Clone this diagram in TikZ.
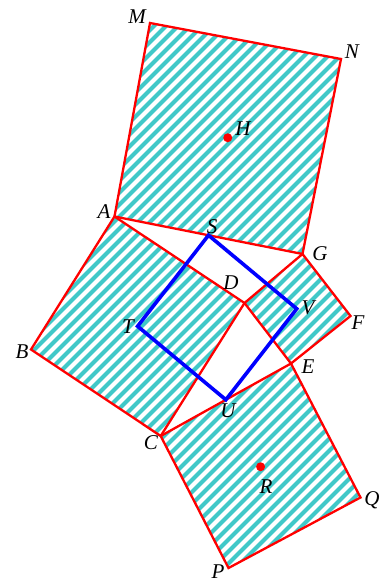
\documentclass[tikz,border=0pt]{standalone}
\usepackage{fontspec}
\setmainfont{Liberation Serif}
\usetikzlibrary{calc}
\begin{document}
\begin{tikzpicture}[x=1pt,y=-1pt,
  redline/.style={draw=red,line width=2.3pt,line join=miter},
  blueline/.style={draw=blue,line width=3.6pt,line join=miter},
  hatch/.style={draw=hatchcol,line width=4.2pt},
  dot/.style={circle,fill=red,inner sep=0pt,minimum size=9pt},
  lbl/.style={inner sep=0pt,font=\fontsize{21}{24}\selectfont\itshape}]
\definecolor{hatchcol}{RGB}{64,200,200}
\useasboundingbox (0,0) rectangle (388,582);
% vertices
\coordinate (M) at (150,23);
\coordinate (N) at (341,59);
\coordinate (A) at (114.5,216.5);
\coordinate (G) at (302.5,254);
\coordinate (D) at (244.5,303);
\coordinate (F) at (350.5,316);
\coordinate (E) at (291,363.5);
\coordinate (B) at (31,349.5);
\coordinate (C) at (160.7,436);
\coordinate (Q) at (360.5,497.5);
\coordinate (P) at (228.5,568);
\coordinate (S) at ($(A)!0.5!(G)$);
\coordinate (V) at ($(G)!0.5!(E)$);
\coordinate (U) at ($(C)!0.5!(E)$);
\coordinate (T) at ($(A)!0.5!(C)$);
% hatching
\begin{scope}
  \clip (A) -- (M) -- (N) -- (G) -- cycle
        (A) -- (B) -- (C) -- (D) -- cycle
        (D) -- (G) -- (F) -- (E) -- cycle
        (C) -- (E) -- (Q) -- (P) -- cycle;
  \foreach \c in {0,12,...,984}{
    \draw[hatch] (\c,0) -- (\c-600,600);
  }
\end{scope}
% squares
\draw[redline] (A) -- (M) -- (N) -- (G) -- cycle;
\draw[redline] (A) -- (B) -- (C) -- (D) -- cycle;
\draw[redline] (D) -- (G) -- (F) -- (E) -- cycle;
\draw[redline] (C) -- (E) -- (Q) -- (P) -- cycle;
% blue square
\draw[blueline] (S) -- (V) -- (U) -- (T) -- cycle;
% centres
\node[dot] (H) at ($(A)!0.5!(N)$) {};
\node[dot] (R) at ($(C)!0.5!(Q)$) {};
% labels
\node[lbl] (lM) at (137,17) {M};
\node[lbl] (lN) at (352,52) {N};
\node[lbl] (lH) at (243,129) {H};
\node[lbl] (lA) at (104,212) {A};
\node[lbl] (lS) at (212,227) {S};
\node[lbl] (lG) at (320,254) {G};
\node[lbl] (lD) at (231,283) {D};
\node[lbl] (lV) at (308,308) {V};
\node[lbl] (lF) at (358,323) {F};
\node[lbl] (lE) at (308,367) {E};
\node[lbl] (lT) at (128,327) {T};
\node[lbl] (lB) at (22,352) {B};
\node[lbl] (lC) at (151,443) {C};
\node[lbl] (lU) at (228,411) {U};
\node[lbl] (lR) at (266,487) {R};
\node[lbl] (lQ) at (372,500) {Q};
\node[lbl] (lP) at (218,572) {P};
\end{tikzpicture}
\end{document}
